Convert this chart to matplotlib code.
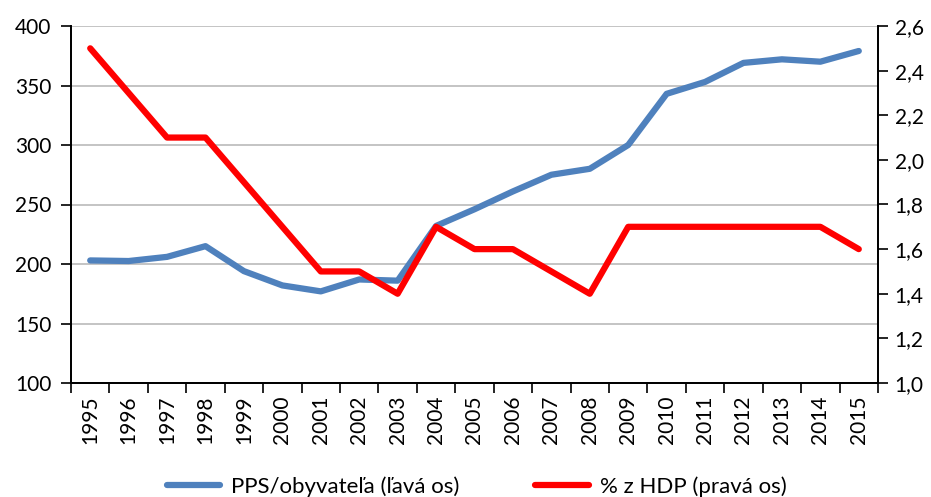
import matplotlib
matplotlib.use("Agg")
import matplotlib.pyplot as plt
import numpy as np

years = [str(y) for y in range(1995, 2016)]
pps = [203, 202.5, 206, 215, 194, 182, 177, 187, 186, 232, 246, 261, 275, 280, 300, 343, 353, 369, 372, 370, 379]
hdp = [2.5, 2.3, 2.1, 2.1, 1.9, 1.7, 1.5, 1.5, 1.4, 1.7, 1.6, 1.6, 1.5, 1.4, 1.7, 1.7, 1.7, 1.7, 1.7, 1.7, 1.6]
left_ticks = [100, 150, 200, 250, 300, 350, 400]
right_ticks = [1.0, 1.2, 1.4, 1.6, 1.8, 2.0, 2.2, 2.4, 2.6]

plt.rcParams['font.family'] = ['Lato', 'DejaVu Sans']

fig = plt.figure(figsize=(9.31, 4.97), dpi=100)
ax = fig.add_axes([71/931, 1 - 383/497, (878-71)/931, (383-26)/497])
ax2 = ax.twinx()

x = np.arange(len(years))
l1, = ax.plot(x, pps, color='#4F81BD', lw=4.5, solid_capstyle='round', solid_joinstyle='round', zorder=3)
l2, = ax2.plot(x, hdp, color='#FF0000', lw=4.5, solid_capstyle='round', solid_joinstyle='round', zorder=3)

fs = 15
ax.set_xlim(-0.5, len(years) - 0.5)
ax.set_ylim(100, 400)
ax2.set_ylim(1.0, 2.6)
ax.set_yticks(left_ticks)
ax.set_yticklabels([str(v) for v in left_ticks], fontsize=fs)
ax2.set_yticks(right_ticks)
ax2.set_yticklabels([f"{v:.1f}".replace('.', ',') for v in right_ticks], fontsize=fs)

ax.set_xticks(np.arange(-0.5, len(years), 1.0))
ax.set_xticklabels([])
ax.set_xticks(x, minor=True)
ax.set_xticklabels(years, minor=True, rotation=90, fontsize=fs)
ax.tick_params(axis='x', which='minor', length=0, pad=9)
ax.tick_params(axis='x', which='major', length=7, width=1.2, direction='out')
ax.tick_params(axis='y', length=7, width=1.2, direction='out', pad=7)
ax2.tick_params(axis='y', length=7, width=1.2, direction='out', pad=5)

ax.grid(axis='y', color='#BFBFBF', lw=1.3)
ax.set_axisbelow(True)
for a in (ax, ax2):
    a.spines['top'].set_visible(False)
    for s in ('left', 'right', 'bottom'):
        a.spines[s].set_linewidth(1.3)
        a.spines[s].set_color('black')
ax.set_zorder(ax2.get_zorder() - 1)
ax.patch.set_visible(True)
ax2.patch.set_visible(False)

fig.legend([l1, l2], ['PPS/obyvateľa (ľavá os)', '% z HDP (pravá os)'],
           loc='lower center', bbox_to_anchor=(0.512, -0.04), ncol=2, frameon=False,
           fontsize=16, handlelength=2.4, handletextpad=0.5, columnspacing=3.4)

fig.savefig('out.png', dpi=100)
